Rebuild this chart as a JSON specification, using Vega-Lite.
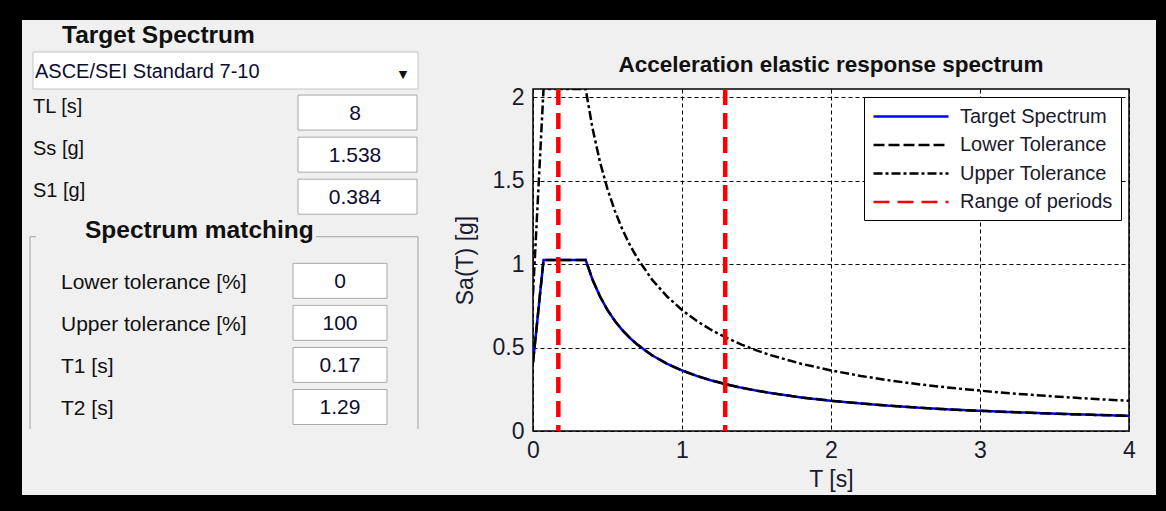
{
  "$schema": "https://vega.github.io/schema/vega-lite/v6.json",
  "background": "#000000",
  "padding": {"left": 22, "top": 20, "right": 10, "bottom": 16},
  "columns": 1,
  "align": "none",
  "spacing": -442,
  "resolve": {
    "scale": {"color": "independent", "strokeDash": "independent"},
    "legend": {"color": "independent", "strokeDash": "independent"}
  },
  "config": {
    "font": "Liberation Sans",
    "view": {"stroke": null},
    "axis": {
      "labelFont": "Liberation Sans", "labelFontSize": 23, "labelColor": "#1a1a2e",
      "titleFont": "Liberation Sans", "titleFontSize": 23, "titleFontWeight": "normal", "titleColor": "#1a1a2e",
      "ticks": false, "domain": false, "grid": true, "gridColor": "#000000", "gridDash": [4, 3],
      "gridOpacity": 1, "gridWidth": 1, "labelFlush": false
    },
    "title": {"font": "Liberation Sans", "fontSize": 22.5, "fontWeight": "bold", "color": "#111111", "offset": 10, "anchor": "middle"},
    "text": {"font": "Liberation Sans", "color": "#101010"}
  },
  "datasets": {
    "panel": [
      {"key": "h1", "text": "Target Spectrum"},
      {"key": "dd", "text": "ASCE/SEI Standard 7-10"},
      {"key": "h2", "text": "Spectrum matching"}
    ],
    "params": [
      {"key": "TL", "label": "TL [s]", "value": "8", "section": "Target Spectrum"},
      {"key": "Ss", "label": "Ss [g]", "value": "1.538", "section": "Target Spectrum"},
      {"key": "S1", "label": "S1 [g]", "value": "0.384", "section": "Target Spectrum"},
      {"key": "Lo", "label": "Lower tolerance [%]", "value": "0", "section": "Spectrum matching"},
      {"key": "Up", "label": "Upper tolerance [%]", "value": "100", "section": "Spectrum matching"},
      {"key": "T1", "label": "T1 [s]", "value": "0.17", "section": "Spectrum matching"},
      {"key": "T2", "label": "T2 [s]", "value": "1.29", "section": "Spectrum matching"}
    ],
    "periods": [
      {"T": 0.17, "series": "Range of periods"},
      {"T": 1.29, "series": "Range of periods"}
    ],
    "spectrum": [
      {"T": 0, "Sa": 0.41, "series": "Target Spectrum"},
      {"T": 0.02, "Sa": 0.584, "series": "Target Spectrum"},
      {"T": 0.04, "Sa": 0.758, "series": "Target Spectrum"},
      {"T": 0.06, "Sa": 0.932, "series": "Target Spectrum"},
      {"T": 0.0707, "Sa": 1.025, "series": "Target Spectrum"},
      {"T": 0.3535, "Sa": 1.025, "series": "Target Spectrum"},
      {"T": 0.4, "Sa": 0.906, "series": "Target Spectrum"},
      {"T": 0.45, "Sa": 0.806, "series": "Target Spectrum"},
      {"T": 0.5, "Sa": 0.725, "series": "Target Spectrum"},
      {"T": 0.55, "Sa": 0.659, "series": "Target Spectrum"},
      {"T": 0.6, "Sa": 0.604, "series": "Target Spectrum"},
      {"T": 0.65, "Sa": 0.558, "series": "Target Spectrum"},
      {"T": 0.7, "Sa": 0.518, "series": "Target Spectrum"},
      {"T": 0.8, "Sa": 0.453, "series": "Target Spectrum"},
      {"T": 0.9, "Sa": 0.403, "series": "Target Spectrum"},
      {"T": 1.0, "Sa": 0.363, "series": "Target Spectrum"},
      {"T": 1.1, "Sa": 0.33, "series": "Target Spectrum"},
      {"T": 1.2, "Sa": 0.302, "series": "Target Spectrum"},
      {"T": 1.3, "Sa": 0.279, "series": "Target Spectrum"},
      {"T": 1.4, "Sa": 0.259, "series": "Target Spectrum"},
      {"T": 1.5, "Sa": 0.242, "series": "Target Spectrum"},
      {"T": 1.6, "Sa": 0.227, "series": "Target Spectrum"},
      {"T": 1.8, "Sa": 0.201, "series": "Target Spectrum"},
      {"T": 2.0, "Sa": 0.181, "series": "Target Spectrum"},
      {"T": 2.2, "Sa": 0.165, "series": "Target Spectrum"},
      {"T": 2.4, "Sa": 0.151, "series": "Target Spectrum"},
      {"T": 2.6, "Sa": 0.139, "series": "Target Spectrum"},
      {"T": 2.8, "Sa": 0.129, "series": "Target Spectrum"},
      {"T": 3.0, "Sa": 0.121, "series": "Target Spectrum"},
      {"T": 3.25, "Sa": 0.112, "series": "Target Spectrum"},
      {"T": 3.5, "Sa": 0.104, "series": "Target Spectrum"},
      {"T": 3.75, "Sa": 0.097, "series": "Target Spectrum"},
      {"T": 4.0, "Sa": 0.091, "series": "Target Spectrum"},
      {"T": 0, "Sa": 0.41, "series": "Lower Tolerance"},
      {"T": 0.02, "Sa": 0.584, "series": "Lower Tolerance"},
      {"T": 0.04, "Sa": 0.758, "series": "Lower Tolerance"},
      {"T": 0.06, "Sa": 0.932, "series": "Lower Tolerance"},
      {"T": 0.0707, "Sa": 1.025, "series": "Lower Tolerance"},
      {"T": 0.3535, "Sa": 1.025, "series": "Lower Tolerance"},
      {"T": 0.4, "Sa": 0.906, "series": "Lower Tolerance"},
      {"T": 0.45, "Sa": 0.806, "series": "Lower Tolerance"},
      {"T": 0.5, "Sa": 0.725, "series": "Lower Tolerance"},
      {"T": 0.55, "Sa": 0.659, "series": "Lower Tolerance"},
      {"T": 0.6, "Sa": 0.604, "series": "Lower Tolerance"},
      {"T": 0.65, "Sa": 0.558, "series": "Lower Tolerance"},
      {"T": 0.7, "Sa": 0.518, "series": "Lower Tolerance"},
      {"T": 0.8, "Sa": 0.453, "series": "Lower Tolerance"},
      {"T": 0.9, "Sa": 0.403, "series": "Lower Tolerance"},
      {"T": 1.0, "Sa": 0.363, "series": "Lower Tolerance"},
      {"T": 1.1, "Sa": 0.33, "series": "Lower Tolerance"},
      {"T": 1.2, "Sa": 0.302, "series": "Lower Tolerance"},
      {"T": 1.3, "Sa": 0.279, "series": "Lower Tolerance"},
      {"T": 1.4, "Sa": 0.259, "series": "Lower Tolerance"},
      {"T": 1.5, "Sa": 0.242, "series": "Lower Tolerance"},
      {"T": 1.6, "Sa": 0.227, "series": "Lower Tolerance"},
      {"T": 1.8, "Sa": 0.201, "series": "Lower Tolerance"},
      {"T": 2.0, "Sa": 0.181, "series": "Lower Tolerance"},
      {"T": 2.2, "Sa": 0.165, "series": "Lower Tolerance"},
      {"T": 2.4, "Sa": 0.151, "series": "Lower Tolerance"},
      {"T": 2.6, "Sa": 0.139, "series": "Lower Tolerance"},
      {"T": 2.8, "Sa": 0.129, "series": "Lower Tolerance"},
      {"T": 3.0, "Sa": 0.121, "series": "Lower Tolerance"},
      {"T": 3.25, "Sa": 0.112, "series": "Lower Tolerance"},
      {"T": 3.5, "Sa": 0.104, "series": "Lower Tolerance"},
      {"T": 3.75, "Sa": 0.097, "series": "Lower Tolerance"},
      {"T": 4.0, "Sa": 0.091, "series": "Lower Tolerance"},
      {"T": 0, "Sa": 0.82, "series": "Upper Tolerance"},
      {"T": 0.02, "Sa": 1.168, "series": "Upper Tolerance"},
      {"T": 0.04, "Sa": 1.516, "series": "Upper Tolerance"},
      {"T": 0.06, "Sa": 1.864, "series": "Upper Tolerance"},
      {"T": 0.0707, "Sa": 2.05, "series": "Upper Tolerance"},
      {"T": 0.3535, "Sa": 2.05, "series": "Upper Tolerance"},
      {"T": 0.4, "Sa": 1.812, "series": "Upper Tolerance"},
      {"T": 0.45, "Sa": 1.611, "series": "Upper Tolerance"},
      {"T": 0.5, "Sa": 1.45, "series": "Upper Tolerance"},
      {"T": 0.55, "Sa": 1.318, "series": "Upper Tolerance"},
      {"T": 0.6, "Sa": 1.208, "series": "Upper Tolerance"},
      {"T": 0.65, "Sa": 1.115, "series": "Upper Tolerance"},
      {"T": 0.7, "Sa": 1.036, "series": "Upper Tolerance"},
      {"T": 0.8, "Sa": 0.906, "series": "Upper Tolerance"},
      {"T": 0.9, "Sa": 0.806, "series": "Upper Tolerance"},
      {"T": 1.0, "Sa": 0.725, "series": "Upper Tolerance"},
      {"T": 1.1, "Sa": 0.659, "series": "Upper Tolerance"},
      {"T": 1.2, "Sa": 0.604, "series": "Upper Tolerance"},
      {"T": 1.3, "Sa": 0.558, "series": "Upper Tolerance"},
      {"T": 1.4, "Sa": 0.518, "series": "Upper Tolerance"},
      {"T": 1.5, "Sa": 0.483, "series": "Upper Tolerance"},
      {"T": 1.6, "Sa": 0.453, "series": "Upper Tolerance"},
      {"T": 1.8, "Sa": 0.403, "series": "Upper Tolerance"},
      {"T": 2.0, "Sa": 0.363, "series": "Upper Tolerance"},
      {"T": 2.2, "Sa": 0.33, "series": "Upper Tolerance"},
      {"T": 2.4, "Sa": 0.302, "series": "Upper Tolerance"},
      {"T": 2.6, "Sa": 0.279, "series": "Upper Tolerance"},
      {"T": 2.8, "Sa": 0.259, "series": "Upper Tolerance"},
      {"T": 3.0, "Sa": 0.242, "series": "Upper Tolerance"},
      {"T": 3.25, "Sa": 0.223, "series": "Upper Tolerance"},
      {"T": 3.5, "Sa": 0.207, "series": "Upper Tolerance"},
      {"T": 3.75, "Sa": 0.193, "series": "Upper Tolerance"},
      {"T": 4.0, "Sa": 0.181, "series": "Upper Tolerance"}
    ]
  },
  "concat": [
    {
      "width": 1134,
      "height": 475,
      "view": {"fill": "#f0f0f0", "stroke": null},
      "layer": [
        {
          "data": {"values": [{}]},
          "mark": {"type": "rule", "color": "#a0a0a0", "strokeWidth": 1, "yOffset": -2, "y2Offset": 22},
          "encoding": {
            "x": {"datum": 8, "type": "quantitative", "scale": {"domain": [0, 1134], "nice": false, "zero": false}, "axis": null},
            "y": {"datum": "h2", "type": "nominal", "scale": {"type": "point", "domain": ["h1", "dd", "TL", "Ss", "S1", "h2", "Lo", "Up", "T1", "T2", "bottom"], "padding": 0.6466, "align": 0.1553}, "axis": null},
            "y2": {"datum": "T2"}
          }
        },
        {
          "data": {"values": [{}]},
          "mark": {"type": "rule", "color": "#a0a0a0", "strokeWidth": 1, "yOffset": -2, "y2Offset": 22},
          "encoding": {
            "x": {"datum": 396, "type": "quantitative", "axis": null},
            "y": {"datum": "h2", "type": "nominal", "axis": null},
            "y2": {"datum": "T2"}
          }
        },
        {
          "data": {"values": [{}]},
          "mark": {"type": "rule", "color": "#a0a0a0", "strokeWidth": 1, "yOffset": -2},
          "encoding": {
            "x": {"datum": 8, "type": "quantitative", "axis": null},
            "x2": {"datum": 14},
            "y": {"datum": "h2", "type": "nominal", "axis": null}
          }
        },
        {
          "data": {"values": [{}]},
          "mark": {"type": "rule", "color": "#a0a0a0", "strokeWidth": 1, "yOffset": -2},
          "encoding": {
            "x": {"datum": 294, "type": "quantitative", "axis": null},
            "x2": {"datum": 396},
            "y": {"datum": "h2", "type": "nominal", "axis": null}
          }
        },
        {
          "data": {"name": "panel"},
          "transform": [{"filter": "datum.key === 'h1'"}],
          "mark": {"type": "text", "align": "left", "fontSize": 24.5, "fontWeight": "bold", "dy": 8},
          "encoding": {
            "x": {"datum": 40, "type": "quantitative", "axis": null},
            "y": {"field": "key", "type": "nominal", "axis": null},
            "text": {"field": "text"}
          }
        },
        {
          "data": {"name": "panel"},
          "transform": [{"filter": "datum.key === 'h2'"}],
          "mark": {"type": "text", "align": "left", "fontSize": 24.5, "fontWeight": "bold", "dy": -8},
          "encoding": {
            "x": {"datum": 63, "type": "quantitative", "axis": null},
            "y": {"field": "key", "type": "nominal", "axis": null},
            "text": {"field": "text"}
          }
        },
        {
          "data": {"name": "panel"},
          "transform": [{"filter": "datum.key === 'dd'"}],
          "mark": {"type": "bar", "size": 37, "fill": "#ffffff", "stroke": "#c4c4c4", "strokeWidth": 1},
          "encoding": {
            "x": {"datum": 11, "type": "quantitative", "axis": null},
            "x2": {"datum": 396},
            "y": {"field": "key", "type": "nominal", "axis": null}
          }
        },
        {
          "data": {"name": "panel"},
          "transform": [{"filter": "datum.key === 'dd'"}],
          "mark": {"type": "text", "align": "left", "fontSize": 20, "dy": 1, "color": "#0c0c30"},
          "encoding": {
            "x": {"datum": 13, "type": "quantitative", "axis": null},
            "y": {"field": "key", "type": "nominal", "axis": null},
            "text": {"field": "text"}
          }
        },
        {
          "data": {"name": "panel"},
          "transform": [{"filter": "datum.key === 'dd'"}],
          "mark": {"type": "text", "text": "▼", "font": "DejaVu Sans", "fontSize": 11, "dy": 4},
          "encoding": {
            "x": {"datum": 381, "type": "quantitative", "axis": null},
            "y": {"field": "key", "type": "nominal", "axis": null}
          }
        },
        {
          "data": {"name": "params"},
          "transform": [{"filter": "datum.section === 'Target Spectrum'"}],
          "mark": {"type": "bar", "size": 35, "fill": "#ffffff", "stroke": "#a8a8a8", "strokeWidth": 1},
          "encoding": {
            "x": {"datum": 276, "type": "quantitative", "axis": null},
            "x2": {"datum": 395},
            "y": {"field": "key", "type": "nominal", "axis": null}
          }
        },
        {
          "data": {"name": "params"},
          "transform": [{"filter": "datum.section === 'Target Spectrum'"}],
          "mark": {"type": "text", "align": "left", "fontSize": 20, "dy": -6},
          "encoding": {
            "x": {"datum": 11, "type": "quantitative", "axis": null},
            "y": {"field": "key", "type": "nominal", "axis": null},
            "text": {"field": "label"}
          }
        },
        {
          "data": {"name": "params"},
          "transform": [{"filter": "datum.section === 'Target Spectrum'"}],
          "mark": {"type": "text", "align": "center", "fontSize": 21, "dy": 1.5, "color": "#0c0c30"},
          "encoding": {
            "x": {"datum": 333, "type": "quantitative", "axis": null},
            "y": {"field": "key", "type": "nominal", "axis": null},
            "text": {"field": "value"}
          }
        },
        {
          "data": {"name": "params"},
          "transform": [{"filter": "datum.section === 'Spectrum matching'"}],
          "mark": {"type": "bar", "size": 35, "fill": "#ffffff", "stroke": "#a8a8a8", "strokeWidth": 1},
          "encoding": {
            "x": {"datum": 271, "type": "quantitative", "axis": null},
            "x2": {"datum": 365},
            "y": {"field": "key", "type": "nominal", "axis": null}
          }
        },
        {
          "data": {"name": "params"},
          "transform": [{"filter": "datum.section === 'Spectrum matching'"}],
          "mark": {"type": "text", "align": "left", "fontSize": 21, "dy": 2},
          "encoding": {
            "x": {"datum": 39, "type": "quantitative", "axis": null},
            "y": {"field": "key", "type": "nominal", "axis": null},
            "text": {"field": "label"}
          }
        },
        {
          "data": {"name": "params"},
          "transform": [{"filter": "datum.section === 'Spectrum matching'"}],
          "mark": {"type": "text", "align": "center", "fontSize": 21, "dy": 1.5, "color": "#0c0c30"},
          "encoding": {
            "x": {"datum": 318, "type": "quantitative", "axis": null},
            "y": {"field": "key", "type": "nominal", "axis": null},
            "text": {"field": "value"}
          }
        }
      ]
    },
    {
      "spacing": 0,
      "resolve": {
        "scale": {"color": "independent", "strokeDash": "independent"},
        "legend": {"color": "independent", "strokeDash": "independent"}
      },
      "hconcat": [
        {
          "width": 431,
          "height": 1,
          "view": {"stroke": null, "fill": null},
          "data": {"values": [{}]},
          "mark": {"type": "point", "opacity": 0},
          "encoding": {}
        },
        {
          "width": 596,
          "height": 342,
          "view": {"fill": "#ffffff", "stroke": "#000000", "strokeWidth": 1.5},
          "title": {"text": "Acceleration elastic response spectrum"},
          "layer": [
            {
              "data": {"name": "spectrum"},
              "transform": [{"filter": "datum.series === 'Target Spectrum'"}],
              "mark": {"type": "line", "clip": true, "strokeWidth": 2.5},
              "encoding": {
                "x": {"field": "T", "type": "quantitative", "scale": {"domain": [0, 4], "nice": false, "zero": false},
                      "axis": {"values": [0, 1, 2, 3, 4], "format": "~g", "title": "T [s]", "labelPadding": 8, "titlePadding": 6}},
                "y": {"field": "Sa", "type": "quantitative", "scale": {"domain": [0, 2.05], "nice": false, "zero": false},
                      "axis": {"values": [0, 0.5, 1, 1.5, 2], "format": "~g", "title": "Sa(T) [g]", "labelPadding": 9, "titlePadding": 15}},
                "color": {"field": "series", "type": "nominal",
                          "scale": {"domain": ["Target Spectrum", "Lower Tolerance", "Upper Tolerance", "Range of periods"], "range": ["#0000ff", "#000000", "#000000", "#ff0000"]},
                          "legend": {"orient": "top-right", "offset": 8, "title": null, "symbolType": "M-1,0H6.5", "symbolSize": 400,
                                     "symbolStrokeWidth": 2.5,
                                     "labelFontSize": 20, "labelFont": "Liberation Sans", "labelColor": "#1a1a2e", "labelOffset": 65,
                                     "padding": 8, "rowPadding": 6.5, "fillColor": "#ffffff", "strokeColor": "#000000", "labelLimit": 400}},
                "strokeDash": {"field": "series", "type": "nominal",
                               "scale": {"domain": ["Target Spectrum", "Lower Tolerance", "Upper Tolerance", "Range of periods"], "range": [[1, 0], [11, 4], [9, 3, 3, 3], [16, 8]]}}
              }
            },
            {
              "data": {"name": "spectrum"},
              "transform": [{"filter": "datum.series === 'Lower Tolerance'"}],
              "mark": {"type": "line", "clip": true, "strokeWidth": 2.5},
              "encoding": {
                "x": {"field": "T", "type": "quantitative"},
                "y": {"field": "Sa", "type": "quantitative"},
                "color": {"field": "series", "type": "nominal"},
                "strokeDash": {"field": "series", "type": "nominal"}
              }
            },
            {
              "data": {"name": "spectrum"},
              "transform": [{"filter": "datum.series === 'Upper Tolerance'"}],
              "mark": {"type": "line", "clip": true, "strokeWidth": 2.5},
              "encoding": {
                "x": {"field": "T", "type": "quantitative"},
                "y": {"field": "Sa", "type": "quantitative"},
                "color": {"field": "series", "type": "nominal"},
                "strokeDash": {"field": "series", "type": "nominal"}
              }
            },
            {
              "data": {"name": "periods"},
              "mark": {"type": "rule", "clip": true, "strokeWidth": 4.5},
              "encoding": {
                "x": {"field": "T", "type": "quantitative"},
                "color": {"field": "series", "type": "nominal"},
                "strokeDash": {"field": "series", "type": "nominal"}
              }
            }
          ]
        }
      ]
    }
  ]
}
